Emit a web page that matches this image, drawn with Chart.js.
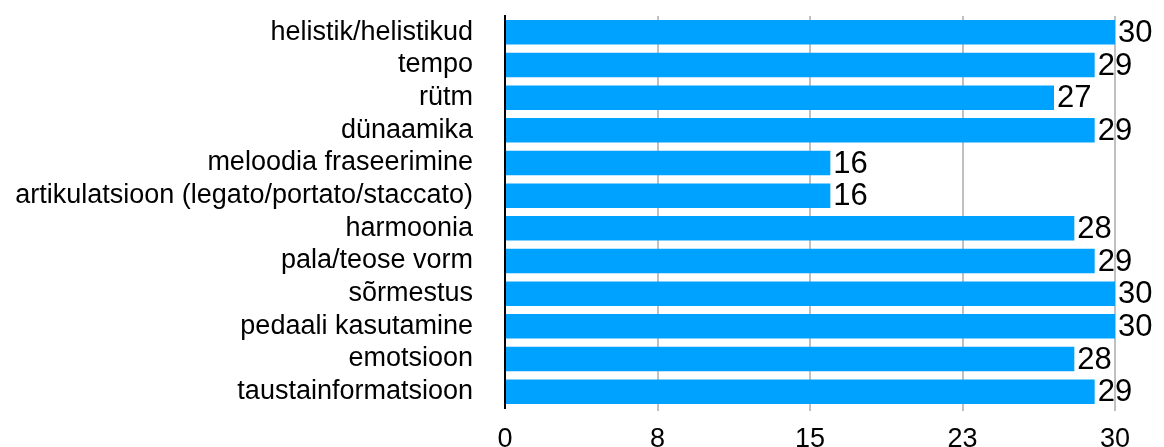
<!DOCTYPE html>
<html>
<head>
<meta charset="utf-8">
<script src="https://cdn.jsdelivr.net/npm/chart.js@4"></script>
<style>
  html, body { margin: 0; padding: 0; background: #fff; }
  #wrap { width: 1164px; height: 447px; }
</style>
</head>
<body>
<div id="wrap"><canvas id="myChart" width="1164" height="447"></canvas></div>
<script>
const categories = [
  'helistik/helistikud',
  'tempo',
  'rütm',
  'dünaamika',
  'meloodia fraseerimine',
  'artikulatsioon (legato/portato/staccato)',
  'harmoonia',
  'pala/teose vorm',
  'sõrmestus',
  'pedaali kasutamine',
  'emotsioon',
  'taustainformatsioon'
];
const values = [30, 29, 27, 29, 16, 16, 28, 29, 30, 30, 28, 29];
const axisMin = 0;
const axisMax = 30;
const axisStep = 7.5;

const FONT = '"Helvetica Neue", Helvetica, Arial, "Liberation Sans", sans-serif';

// numbers at the end of each bar
const valueLabels = {
  id: 'valueLabels',
  afterDatasetsDraw(chart) {
    const ctx = chart.ctx;
    const meta = chart.getDatasetMeta(0);
    ctx.save();
    ctx.font = '31px ' + FONT;
    ctx.fillStyle = '#000';
    ctx.textAlign = 'left';
    ctx.textBaseline = 'middle';
    meta.data.forEach((bar, i) => {
      ctx.fillText(String(values[i]), bar.x + 3, bar.y + 1);
    });
    ctx.restore();
  }
};

const ctx = document.getElementById('myChart').getContext('2d');
new Chart(ctx, {
  type: 'bar',
  data: {
    labels: categories,
    datasets: [{
      data: values,
      backgroundColor: '#00a2ff',
      borderWidth: 0,
      barPercentage: 0.75,
      categoryPercentage: 1
    }]
  },
  options: {
    indexAxis: 'y',
    responsive: false,
    animation: false,
    layout: { padding: { top: 16, right: 49, left: 0, bottom: 0 } },
    plugins: {
      legend: { display: false },
      tooltip: { enabled: false }
    },
    scales: {
      x: {
        min: axisMin,
        max: axisMax,
        afterFit(scale) { scale.height = 39; },
        ticks: {
          stepSize: axisStep,
          color: '#000',
          font: { family: FONT, size: 27 },
          padding: 12,
          maxRotation: 0,
          callback: v => Math.round(v)
        },
        grid: {
          color: c => c.index === 0 ? 'rgba(0,0,0,0)' : '#c0c0c0',
          lineWidth: 2,
          drawTicks: true,
          tickLength: 3
        },
        border: { display: false }
      },
      y: {
        afterFit(scale) {
          scale.width = 505;
          // label padding would otherwise push the plot area down
          scale.paddingTop = 0;
          scale.paddingBottom = 0;
        },
        ticks: {
          color: '#000',
          font: { family: FONT, size: 27 },
          padding: 32,
          autoSkip: false
        },
        grid: { display: false, drawTicks: false },
        border: { display: true, color: '#000', width: 2 }
      }
    }
  },
  plugins: [valueLabels]
});
</script>
</body>
</html>
